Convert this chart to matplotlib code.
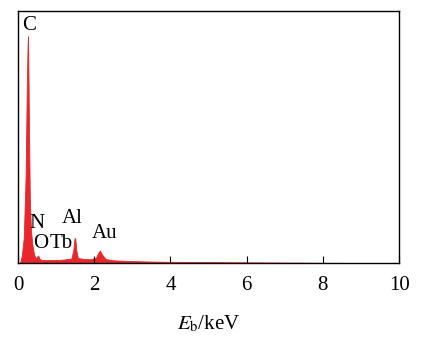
import matplotlib
matplotlib.use("Agg")
import matplotlib.pyplot as plt

# EDS spectrum (energy in keV, relative counts)
energy = [0.05, 0.10, 0.15, 0.20, 0.23, 0.25, 0.26, 0.27, 0.29, 0.31, 0.34,
          0.37, 0.40, 0.43, 0.47, 0.50, 0.53, 0.56, 0.62, 0.80, 1.00, 1.20,
          1.40, 1.45, 1.48, 1.50, 1.53, 1.57, 1.70, 1.90, 2.05, 2.10, 2.15,
          2.20, 2.30, 2.50, 3.00, 3.50, 4.00, 5.00, 6.00, 7.00, 8.00, 10.0]
counts = [0.0, 0.03, 0.10, 0.35, 0.70, 0.86, 0.90, 0.80, 0.50, 0.25, 0.13,
          0.08, 0.05, 0.03, 0.018, 0.025, 0.03, 0.018, 0.012, 0.012, 0.012, 0.014,
          0.018, 0.05, 0.095, 0.10, 0.05, 0.02, 0.017, 0.015, 0.022, 0.04, 0.05,
          0.035, 0.016, 0.011, 0.008, 0.006, 0.005, 0.004, 0.003, 0.002, 0.001, 0.0]

peak_names = ["C", "N", "O", "Tb", "Al", "Au"]
peak_x = [0.28, 0.49, 0.59, 1.12, 1.43, 2.28]
peak_y = [0.905, 0.12, 0.04, 0.04, 0.139, 0.079]

plt.rcParams["font.family"] = ["Liberation Serif", "DejaVu Serif"]
plt.rcParams["mathtext.fontset"] = "stix"

fig = plt.figure(figsize=(4.4, 3.48), dpi=100)
ax = fig.add_axes([0.041, 0.244, 0.866, 0.724])

ax.fill_between(energy, counts, 0, color="#e8262b", linewidth=0.6,
                edgecolor="#e8262b")
for name, x, y in zip(peak_names, peak_x, peak_y):
    ax.text(x, y, name, ha="center", va="bottom", fontsize=15)

ax.set_xlim(0, 10)
ax.set_ylim(0, 1.0)
ax.set_xticks([0, 2, 4, 6, 8, 10])
ax.tick_params(axis="x", direction="in", length=5, width=0.8, pad=9,
               labelsize=15)
ax.set_yticks([])
for sp in ax.spines.values():
    sp.set_linewidth(1.0)
ax.set_xlabel("$E_{\\rm b}$/keV", fontsize=15, labelpad=14)

fig.savefig("out.png", dpi=100)
